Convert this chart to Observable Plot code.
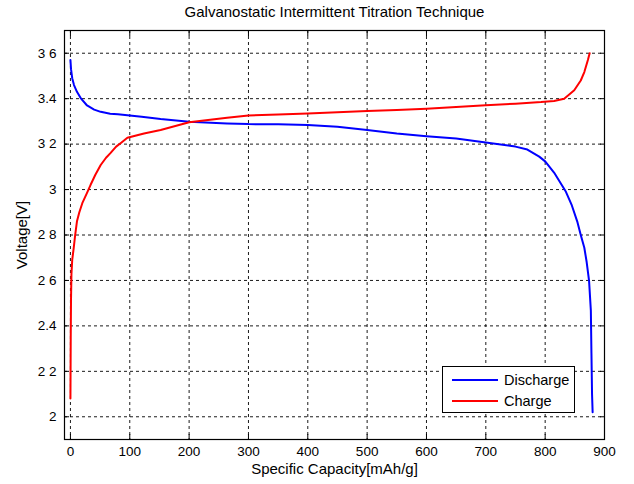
<!DOCTYPE html>
<html>
<head>
<meta charset="utf-8">
<script src="https://cdn.jsdelivr.net/npm/d3@7"></script>
<script src="https://cdn.jsdelivr.net/npm/@observablehq/plot@0.6"></script>
<style>
  html, body { margin: 0; padding: 0; background: #fff; }
  #wrap { position: relative; width: 634px; height: 484px; font-family: "Liberation Sans", Arial, Helvetica, sans-serif; }
  #legend { position: absolute; left: 442px; top: 366px; width: 133px; height: 47px; border: 1px solid #000; background: #fff; box-sizing: border-box; font-size: 14.5px; }
  #legend .row { position: absolute; left: 9px; height: 16px; display: flex; align-items: center; }
  #legend .sw { width: 46px; height: 2px; margin-right: 6px; }
</style>
</head>
<body>
<div id="wrap"></div>
<script>
// ---- data ----
const title = "Galvanostatic Intermittent Titration Technique";
const xLabel = "Specific Capacity[mAh/g]";
const yLabel = "Voltage[V]";

const xTicks = [0, 100, 200, 300, 400, 500, 600, 700, 800, 900];
const yTicks = [2, 2.2, 2.4, 2.6, 2.8, 3, 3.2, 3.4, 3.6];
const yTickLabels = ["2", "2 2", "2.4", "2 6", "2 8", "3", "3 2", "3.4", "3 6"];

const seriesNames = ["Discharge", "Charge"];
const seriesColors = ["#0000ff", "#ff0000"];

const dischargeCap = [0, 1, 3, 6, 11, 18, 28, 40, 51, 67, 80, 96, 120, 152, 200, 264, 300, 350, 400, 450, 500, 550, 600, 650, 700, 750, 770, 790, 800, 815, 835, 845, 854, 860, 866, 870, 874, 877, 878, 879, 880];
const dischargeV = [3.57, 3.53, 3.49, 3.46, 3.43, 3.40, 3.37, 3.352, 3.342, 3.334, 3.331, 3.327, 3.32, 3.31, 3.298, 3.291, 3.288, 3.287, 3.284, 3.276, 3.262, 3.247, 3.235, 3.225, 3.207, 3.189, 3.176, 3.145, 3.124, 3.075, 2.99, 2.93, 2.86, 2.80, 2.744, 2.68, 2.598, 2.467, 2.28, 2.1, 2.02];

const chargeCap = [0, 0.5, 1, 1.7, 3, 5.6, 8, 11, 15, 20, 27, 34, 42, 51, 60, 67, 77, 85, 96, 124, 152, 200, 264, 300, 350, 400, 450, 500, 550, 600, 650, 700, 750, 793, 815, 832, 849, 860, 866, 872, 875];
const chargeV = [2.08, 2.35, 2.52, 2.627, 2.69, 2.744, 2.80, 2.86, 2.90, 2.94, 2.98, 3.021, 3.065, 3.108, 3.14, 3.159, 3.189, 3.205, 3.228, 3.247, 3.262, 3.296, 3.316, 3.326, 3.33, 3.335, 3.34, 3.346, 3.35, 3.356, 3.363, 3.371, 3.378, 3.385, 3.39, 3.40, 3.437, 3.48, 3.517, 3.57, 3.6];

// ---- build table ----
const rows = [];
dischargeCap.forEach((c, i) => rows.push({series: seriesNames[0], cap: c, v: dischargeV[i]}));
chargeCap.forEach((c, i) => rows.push({series: seriesNames[1], cap: c, v: chargeV[i]}));

const yLabelMap = new Map(yTicks.map((t, i) => [t.toFixed(1), yTickLabels[i]]));
const font = "'Liberation Sans', Arial, Helvetica, sans-serif";
const grid = {stroke: "#000", strokeOpacity: 1, strokeWidth: 0.9, strokeDasharray: "3,3"};
const blank = () => "";

const chart = Plot.plot({
  width: 634,
  height: 484,
  marginTop: 30,
  marginRight: 30,
  marginBottom: 45,
  marginLeft: 64,
  style: {fontFamily: font, fontSize: "13.5px", background: "#fff", color: "#000"},
  x: {domain: [-10, 900]},
  y: {domain: [1.9, 3.7]},
  color: {domain: seriesNames, range: seriesColors},
  marks: [
    Plot.gridX(xTicks, grid),
    Plot.gridY(yTicks, grid),
    Plot.line(rows, {x: "cap", y: "v", z: "series", stroke: "series", strokeWidth: 2}),
    Plot.frame({stroke: "#000", strokeWidth: 1.2}),
    Plot.axisX(xTicks, {anchor: "bottom", tickSize: -5, tickPadding: 12, label: null, tickFormat: d => String(d)}),
    Plot.axisX(xTicks, {anchor: "top", tickSize: -5, tickFormat: blank, label: null}),
    Plot.axisY(yTicks, {anchor: "left", tickSize: -5, tickPadding: 13, label: null, tickFormat: d => yLabelMap.get(d.toFixed(1))}),
    Plot.axisY(yTicks, {anchor: "right", tickSize: -5, tickFormat: blank, label: null}),
    Plot.text([title], {frameAnchor: "top", lineAnchor: "middle", dy: -18, fontSize: 15}),
    Plot.text([xLabel], {frameAnchor: "bottom", lineAnchor: "middle", dy: 30, fontSize: 15}),
    Plot.text([yLabel], {frameAnchor: "left", lineAnchor: "middle", textAnchor: "middle", dx: -42, rotate: -90, fontSize: 15})
  ]
});

const wrap = document.getElementById("wrap");
wrap.appendChild(chart);

// legend overlay
const legend = document.createElement("div");
legend.id = "legend";
seriesNames.forEach((name, i) => {
  const row = document.createElement("div");
  row.className = "row";
  row.style.top = (i === 0 ? 5 : 26) + "px";
  const sw = document.createElement("div");
  sw.className = "sw";
  sw.style.background = seriesColors[i];
  const lab = document.createElement("span");
  lab.textContent = name;
  row.appendChild(sw);
  row.appendChild(lab);
  legend.appendChild(row);
});
wrap.appendChild(legend);
</script>
</body>
</html>
